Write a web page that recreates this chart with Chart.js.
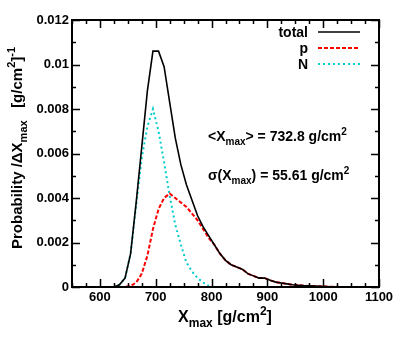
<!DOCTYPE html>
<html>
<head>
<meta charset="utf-8">
<script src="https://cdn.jsdelivr.net/npm/chart.js@4/dist/chart.umd.min.js"></script>
<style>
  html, body { margin: 0; padding: 0; background: #fff; }
</style>
</head>
<body>
<canvas id="xmaxChart" width="407" height="349"></canvas>
<script>
// Xmax bin centres [g/cm2]
const xmaxBins = [625, 635, 645, 655, 665, 675, 685, 695, 705, 715, 725, 735, 745, 755, 765, 775, 785, 795,
  805, 815, 825, 835, 845, 855, 865, 875, 885, 895, 905, 915, 925, 935, 945, 955, 965, 975, 985, 995,
  1005, 1015, 1025, 1035, 1045, 1055, 1065, 1075, 1085, 1095];

const totalProb = [0, 0.0001, 0.0004, 0.0015, 0.0038, 0.0063, 0.0088, 0.0106, 0.0106, 0.0099, 0.0083, 0.0067,
  0.0055, 0.0046, 0.0039, 0.0032, 0.0027, 0.0023, 0.0019, 0.0015, 0.0012, 0.0010, 0.0009, 0.0008, 0.0006,
  0.0005, 0.0004, 0.0004, 0.0003, 0.00022, 0.00018, 0.00014, 0.0001, 0.00008, 0.00006, 0.00005, 0.00004,
  0.00003, 0.00002, 0.00001, 0.00001, 0, 0, 0, 0, 0, 0, 0];

const protonProb = [0, 0, 0, 0.00005, 0.0002, 0.0006, 0.0014, 0.0026, 0.0035, 0.0040, 0.0042, 0.0040,
  0.0038, 0.0036, 0.0033, 0.0030, 0.0026, 0.0022, 0.0019, 0.0015, 0.0012, 0.0010, 0.0009, 0.0008, 0.0006,
  0.0005, 0.0004, 0.0004, 0.0003, 0.00022, 0.00018, 0.00014, 0.0001, 0.00008, 0.00006, 0.00005, 0.00004,
  0.00003, 0.00002, 0.00001, 0.00001, 0, 0, 0, 0, 0, 0, 0];

const nitrogenProb = [0, 0.0001, 0.0004, 0.0015, 0.0037, 0.0058, 0.0072, 0.0080, 0.0070, 0.0056, 0.0041,
  0.0028, 0.0019, 0.0011, 0.0007, 0.0004, 0.0002, 0.00005, 0, 0, 0, 0, 0, 0, 0, 0, 0, 0, 0, 0, 0, 0, 0, 0,
  0, 0, 0, 0, 0, 0, 0, 0, 0, 0, 0, 0, 0, 0];

const xTicks = [600, 700, 800, 900, 1000, 1100];
const yTicks = [0, 0.002, 0.004, 0.006, 0.008, 0.01, 0.012];

const FONT = '"Liberation Sans", Arial, sans-serif';

function pts(ys) {
  return xmaxBins.map((x, i) => ({ x: x, y: ys[i] }));
}

// draw a run of text pieces, with sub / sup shifts
function richText(ctx, x, y, parts, size, align) {
  const sub = Math.round(size * 0.72);
  let w = 0;
  parts.forEach(p => {
    ctx.font = 'bold ' + (p.s ? sub : size) + 'px ' + FONT;
    p.w = ctx.measureText(p.t).width;
    w += p.w;
  });
  let cx = align === 'right' ? x - w : (align === 'center' ? x - w / 2 : x);
  ctx.textAlign = 'left';
  ctx.textBaseline = 'alphabetic';
  parts.forEach(p => {
    ctx.font = 'bold ' + (p.s ? sub : size) + 'px ' + FONT;
    let dy = 0;
    if (p.s === 'sub') dy = size * 0.3;
    if (p.s === 'sup') dy = -size * 0.45;
    ctx.fillText(p.t, cx, y + dy);
    cx += p.w;
  });
}

const framePlugin = {
  id: 'frame',
  afterDraw(chart) {
    const ctx = chart.ctx;
    const a = chart.chartArea;
    const xs = chart.scales.x, ys = chart.scales.y;
    ctx.save();
    ctx.strokeStyle = '#000';
    ctx.lineWidth = 2;
    ctx.strokeRect(a.left, a.top, a.right - a.left, a.bottom - a.top);

    // ticks pointing inward on all four sides
    ctx.lineWidth = 1.5;
    ctx.beginPath();
    for (let v = 550; v <= 1100; v += 25) {
      const px = Math.round(xs.getPixelForValue(v)) + 0.5;
      const len = v % 100 === 0 ? 8 : 4;
      ctx.moveTo(px, a.bottom); ctx.lineTo(px, a.bottom - len);
      ctx.moveTo(px, a.top); ctx.lineTo(px, a.top + len);
    }
    for (let k = 0; k <= 12; k++) {
      const py = Math.round(ys.getPixelForValue(k * 0.001)) + 0.5;
      const len = k % 2 === 0 ? 8 : 4;
      ctx.moveTo(a.left, py); ctx.lineTo(a.left + len, py);
      ctx.moveTo(a.right, py); ctx.lineTo(a.right - len, py);
    }
    ctx.stroke();

    // legend
    ctx.fillStyle = '#000';
    chart.data.datasets.forEach((ds, i) => {
      const ly = 32 + i * 16;
      richText(ctx, 308, ly + 5, [{ t: ds.label }], 14, 'right');
      ctx.strokeStyle = ds.borderColor;
      ctx.lineWidth = ds.borderWidth;
      ctx.setLineDash(ds.borderDash || []);
      ctx.beginPath();
      ctx.moveTo(318, ly); ctx.lineTo(360, ly);
      ctx.stroke();
    });
    ctx.setLineDash([]);

    // statistics
    richText(ctx, 208, 141, [{ t: '<X' }, { t: 'max', s: 'sub' }, { t: '> = 732.8 g/cm' }, { t: '2', s: 'sup' }], 14, 'left');
    richText(ctx, 208, 180, [{ t: 'σ(X' }, { t: 'max', s: 'sub' }, { t: ') = 55.61 g/cm' }, { t: '2', s: 'sup' }], 14, 'left');

    // axis titles
    richText(ctx, 225, 322, [{ t: 'X' }, { t: 'max', s: 'sub' }, { t: ' [g/cm' }, { t: '2', s: 'sup' }, { t: ']' }], 16, 'center');
    ctx.translate(22, 148);
    ctx.rotate(-Math.PI / 2);
    richText(ctx, 0, 0, [{ t: 'Probability /ΔX' }, { t: 'max', s: 'sub' }, { t: '   [g/cm' }, { t: '2', s: 'sup' }, { t: ']' }, { t: '-1', s: 'sup' }], 15, 'center');
    ctx.restore();
  }
};

const ctx = document.getElementById('xmaxChart').getContext('2d');
const chart = new Chart(ctx, {
  type: 'line',
  data: {
    datasets: [{
      label: 'total',
      data: pts(totalProb),
      borderColor: '#000000',
      borderWidth: 1.6
    }, {
      label: 'p',
      data: pts(protonProb),
      borderColor: '#ff0000',
      borderWidth: 2,
      borderDash: [4, 2]
    }, {
      label: 'N',
      data: pts(nitrogenProb),
      borderColor: '#00cccc',
      borderWidth: 2,
      borderDash: [2, 3]
    }]
  },
  options: {
    responsive: false,
    animation: false,
    devicePixelRatio: 1,
    layout: { padding: { left: 0, right: 28, top: 20, bottom: 0 } },
    elements: { point: { radius: 0 }, line: { tension: 0 } },
    plugins: { legend: { display: false }, tooltip: { enabled: false } },
    scales: {
      x: {
        type: 'linear',
        min: 550,
        max: 1100,
        grid: { display: false, drawTicks: false },
        border: { display: false },
        afterBuildTicks: axis => { axis.ticks = xTicks.map(v => ({ value: v })); },
        afterFit: scale => { scale.height = 62; },
        ticks: {
          padding: 3,
          color: '#000',
          font: { family: FONT, size: 13, weight: 'bold' },
          maxRotation: 0,
          callback: v => String(v)
        }
      },
      y: {
        type: 'linear',
        min: 0,
        max: 0.012,
        grid: { display: false, drawTicks: false },
        border: { display: false },
        afterBuildTicks: axis => { axis.ticks = yTicks.map(v => ({ value: v })); },
        afterFit: scale => { scale.width = 72; },
        ticks: {
          padding: 3,
          color: '#000',
          font: { family: FONT, size: 13, weight: 'bold' },
          callback: v => v === 0 ? '0' : String(+v.toFixed(3))
        }
      }
    }
  },
  plugins: [framePlugin]
});
</script>
</body>
</html>
